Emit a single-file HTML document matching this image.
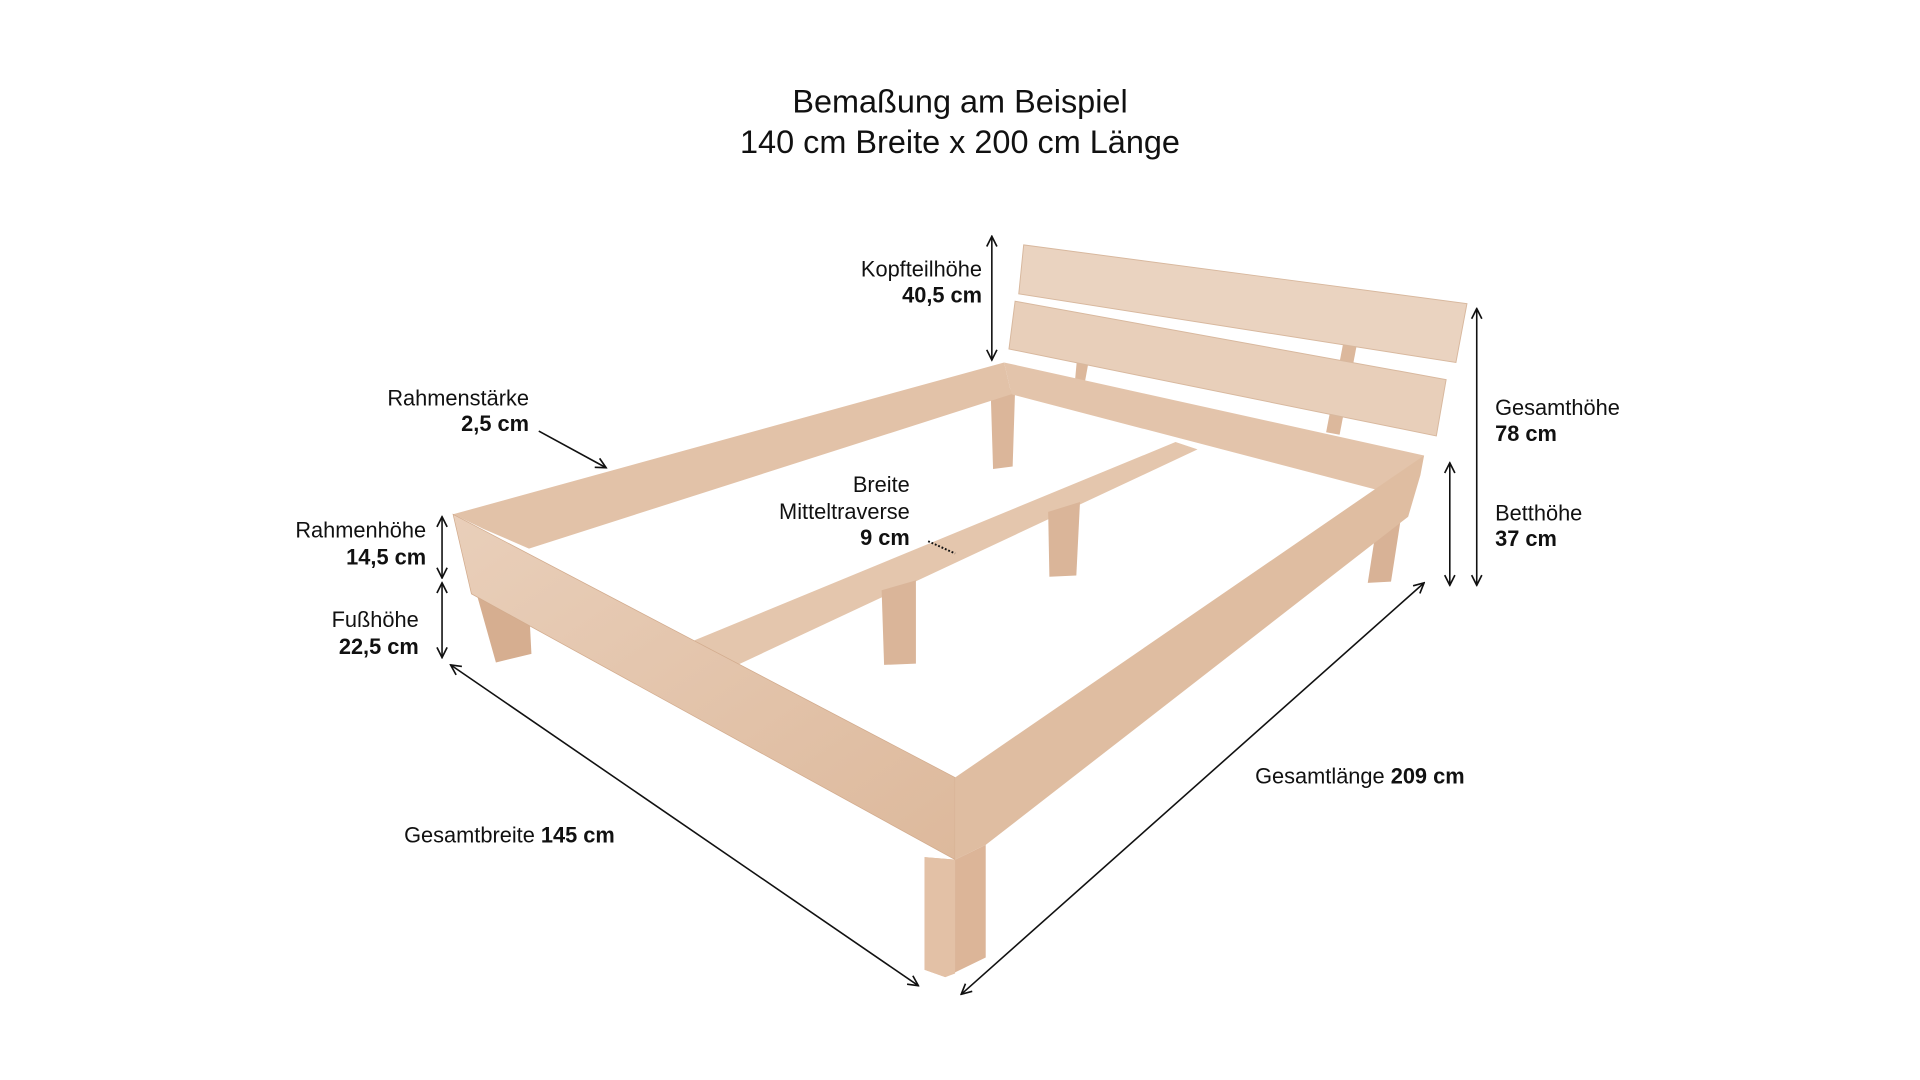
<!DOCTYPE html>
<html><head><meta charset="utf-8"><style>
html,body{margin:0;padding:0;background:#fff;width:1920px;height:1080px;overflow:hidden}
svg{display:block}
text{font-family:"Liberation Sans",sans-serif;fill:#111}
.b{font-weight:bold}
</style></head><body>
<svg width="1920" height="1080" viewBox="0 0 1568 882" xmlns="http://www.w3.org/2000/svg">
<defs>
<marker id="a" viewBox="0 0 10 10" refX="9" refY="5" markerWidth="8" markerHeight="8" orient="auto-start-reverse"><path d="M1,1 L9,5 L1,9" fill="none" stroke="#111" stroke-width="1.3"/></marker>
<linearGradient id="w" x1="0" y1="0" x2="1" y2="1"><stop offset="0" stop-color="#e9cfba"/><stop offset="1" stop-color="#ddb99c"/></linearGradient>
</defs>
<text x="784" y="92" font-size="26.5" text-anchor="middle">Bemaßung am Beispiel</text>
<text x="784" y="125" font-size="26.5" text-anchor="middle">140 cm Breite x 200 cm Länge</text>

<polygon points="880,288 890,290 886,312 878,310" fill="#dcb89c"/>
<polygon points="1097,280 1108,282 1094,355 1083,353" fill="#dcb89c"/>
<polygon points="836,200 1198,248 1189,296 832,240" fill="#ead3c0" stroke="#d8b89e" stroke-width="0.8"/>
<polygon points="829,246 1181,310 1173,356 824,285" fill="#e8cfba" stroke="#d8b89e" stroke-width="0.8"/>
<polygon points="809,318 829,318 827,381 811,383" fill="#dbb69a"/>
<polygon points="1128,405 1148,398 1136,475 1117,476" fill="#d8b296"/>
<polygon points="820,296 1163,372 1158,385 1132,402 826,322" fill="#e3c4ab"/>
<polygon points="370,420 820,296 826,322 432,448 395,432" fill="#e2c2a8"/>
<polygon points="567,523 960,361 978,367 598,545" fill="#e4c6ad"/>
<polygon points="856,418 882,410 879,470 857,471" fill="#dab599"/>
<polygon points="720,482 748,474 748,542 722,543" fill="#dab599"/>
<polygon points="385,470 432,495 434,534 405,541" fill="#d6ae90"/>
<polygon points="370,420 780,635 780,702 385,485" fill="url(#w)" stroke="#d2ab8d" stroke-width="0.6"/>
<polygon points="780,635 1163,372 1160,388 1150,422 805,690 780,702" fill="#dfbda1"/>
<polygon points="755,700 780,702 805,690 805,782 772,798 755,792" fill="#dcb598"/>
<polygon points="755,700 780,702 780,795 772,798 755,792" fill="#e3c1a6"/>

<g stroke="#111" stroke-width="1.3" fill="none">
<line x1="810" y1="193" x2="810" y2="294" marker-start="url(#a)" marker-end="url(#a)"/>
<line x1="1206" y1="252" x2="1206" y2="478" marker-start="url(#a)" marker-end="url(#a)"/>
<line x1="1184" y1="378" x2="1184" y2="478" marker-start="url(#a)" marker-end="url(#a)"/>
<line x1="361" y1="422" x2="361" y2="472" marker-start="url(#a)" marker-end="url(#a)"/>
<line x1="361" y1="476" x2="361" y2="537" marker-end="url(#a)" marker-start="url(#a)"/>
<line x1="440" y1="352" x2="495" y2="382" marker-end="url(#a)"/>
<line x1="368" y1="543" x2="750" y2="805" marker-start="url(#a)" marker-end="url(#a)"/>
<line x1="1163" y1="476" x2="785" y2="812" marker-start="url(#a)" marker-end="url(#a)"/>
<line x1="758" y1="442" x2="780" y2="452" stroke-dasharray="1.5,1.5" stroke-width="1.6"/>
</g>

<g font-size="17.8">
<text x="802" y="226" text-anchor="end">Kopfteilhöhe</text>
<text x="802" y="247" text-anchor="end" class="b">40,5 cm</text>
<text x="432" y="331" text-anchor="end">Rahmenstärke</text>
<text x="432" y="352" text-anchor="end" class="b">2,5 cm</text>
<text x="743" y="402" text-anchor="end">Breite</text>
<text x="743" y="424" text-anchor="end">Mitteltraverse</text>
<text x="743" y="445" text-anchor="end" class="b">9 cm</text>
<text x="348" y="439" text-anchor="end">Rahmenhöhe</text>
<text x="348" y="461" text-anchor="end" class="b">14,5 cm</text>
<text x="342" y="512" text-anchor="end">Fußhöhe</text>
<text x="342" y="534" text-anchor="end" class="b">22,5 cm</text>
<text x="1221" y="339">Gesamthöhe</text>
<text x="1221" y="360" class="b">78 cm</text>
<text x="1221" y="425">Betthöhe</text>
<text x="1221" y="446" class="b">37 cm</text>
<text x="1025" y="640">Gesamtlänge <tspan class="b">209 cm</tspan></text>
<text x="330" y="688">Gesamtbreite <tspan class="b">145 cm</tspan></text>
</g>
</svg>
</body></html>
